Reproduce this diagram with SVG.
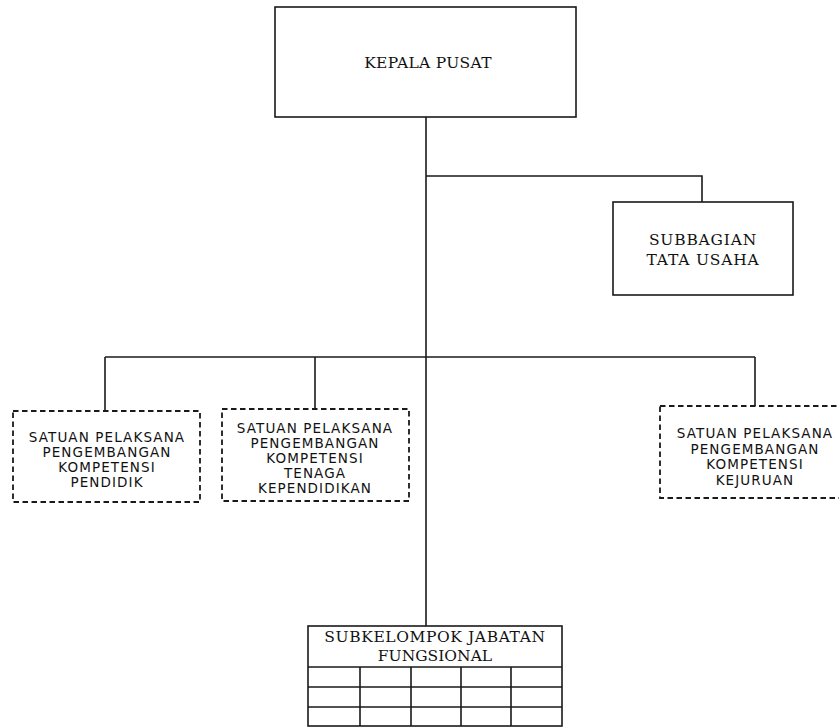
<svg xmlns="http://www.w3.org/2000/svg" width="839" height="727" viewBox="0 0 839 727">
<style>
.solid{fill:#fff;stroke:#1a1a1a;stroke-width:1.6}
.dash{fill:#fff;stroke:#1a1a1a;stroke-width:1.8;stroke-dasharray:5.5 3.5}
.ln{fill:none;stroke:#1a1a1a;stroke-width:1.6}
.serif{font-family:"DejaVu Serif","Liberation Serif",serif;font-size:15.5px;fill:#111;text-anchor:middle}
.sans{font-family:"DejaVu Sans","Liberation Sans",sans-serif;font-size:13.5px;letter-spacing:1.1px;fill:#111;text-anchor:middle}
</style>
<rect width="839" height="727" fill="#fff"/>
<g id="connectors">
<path class="ln" d="M426 117 V626"/>
<path class="ln" d="M426 176 H702 V202"/>
<path class="ln" d="M105 357 H755"/>
<path class="ln" d="M105 357 V411"/>
<path class="ln" d="M315 357 V409"/>
<path class="ln" d="M755 357 V406"/>
</g>
<g id="kepala-pusat">
<rect class="solid" x="275" y="7" width="301" height="110"/>
<text class="serif" x="428" y="68" font-size="16" letter-spacing="0.3">KEPALA PUSAT</text>
</g>
<g id="subbagian-tata-usaha">
<rect class="solid" x="613" y="202" width="180" height="93"/>
<text class="serif" x="703" y="245" letter-spacing="0.8">SUBBAGIAN</text>
<text class="serif" x="703" y="265" letter-spacing="0.8">TATA USAHA</text>
</g>
<g id="satuan-pendidik">
<rect class="dash" x="13" y="411" width="187" height="91"/>
<text class="sans" x="107" y="442">SATUAN PELAKSANA</text>
<text class="sans" x="107" y="457">PENGEMBANGAN</text>
<text class="sans" x="107" y="472">KOMPETENSI</text>
<text class="sans" x="107" y="487">PENDIDIK</text>
</g>
<g id="satuan-tenaga-kependidikan">
<rect class="dash" x="222" y="409" width="187" height="92"/>
<text class="sans" x="315" y="433">SATUAN PELAKSANA</text>
<text class="sans" x="315" y="448">PENGEMBANGAN</text>
<text class="sans" x="315" y="463">KOMPETENSI</text>
<text class="sans" x="315" y="478">TENAGA</text>
<text class="sans" x="315" y="493">KEPENDIDIKAN</text>
</g>
<g id="satuan-kejuruan">
<rect class="dash" x="660" y="406" width="190" height="92"/>
<text class="sans" x="755" y="438">SATUAN PELAKSANA</text>
<text class="sans" x="755" y="454">PENGEMBANGAN</text>
<text class="sans" x="755" y="469">KOMPETENSI</text>
<text class="sans" x="755" y="485">KEJURUAN</text>
</g>
<g id="subkelompok-jabatan-fungsional">
<rect class="solid" x="308" y="626" width="254" height="100"/>
<text class="serif" x="435" y="642" letter-spacing="0.6">SUBKELOMPOK JABATAN</text>
<text class="serif" x="435" y="661">FUNGSIONAL</text>
<path class="ln" d="M308 667 H562 M308 687 H562 M308 707 H562 M360 667 V726 M411 667 V726 M461 667 V726 M511 667 V726"/>
</g>
</svg>
